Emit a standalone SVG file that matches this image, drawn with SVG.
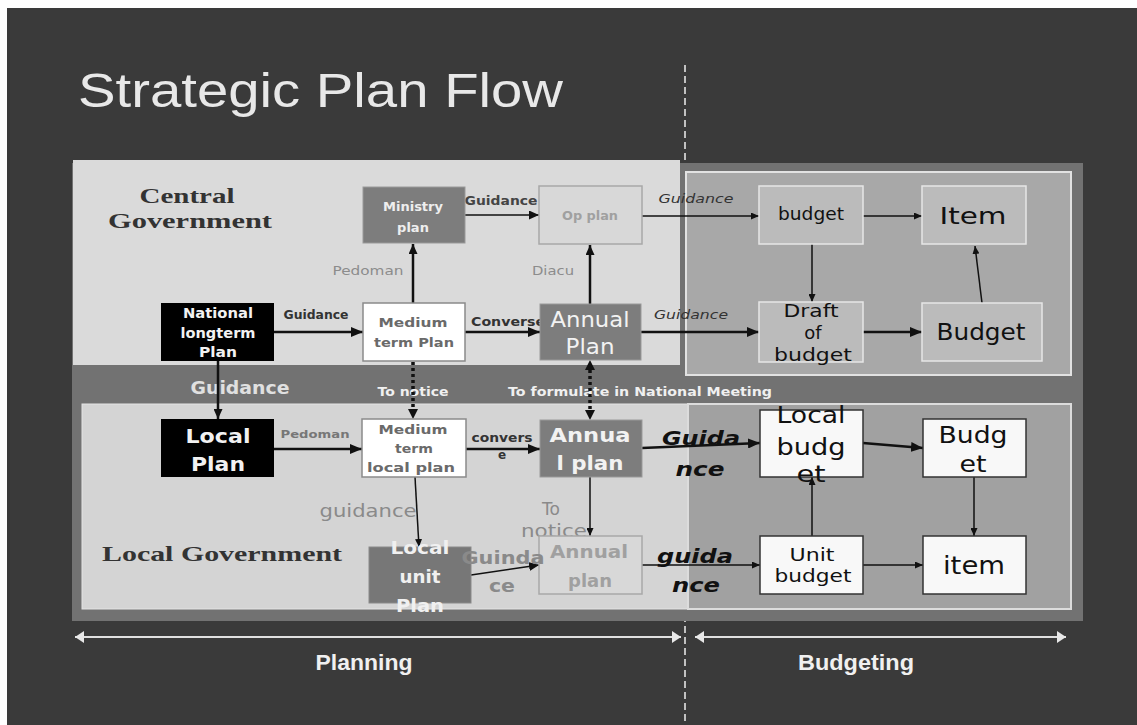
<svg xmlns="http://www.w3.org/2000/svg" width="1137" height="725" viewBox="0 0 1137 725">
<defs>
<style>
.dv{font-family:"DejaVu Sans",Verdana,sans-serif}
.lib{font-family:"Liberation Sans",Arial,sans-serif}
.ser{font-family:"Liberation Serif","Times New Roman",serif;font-weight:bold;font-size:21px;fill:#333}
.b{font-weight:bold}
.i{font-style:italic}
.c{text-anchor:middle}
.ln{stroke:#111;fill:none}
.thk{stroke-width:2.5}
.thn{stroke-width:1.5}
.dot{stroke:#111;stroke-width:3.5;stroke-dasharray:3 3;fill:none}
.white{fill:#f2f2f2}
.dk{fill:#333}
.gr{fill:#8a8a8a}
.bx-black{fill:#000}
.bx-mid{fill:#7d7d7d;stroke:#9a9a9a;stroke-width:1}
.bx-white{fill:#fff;stroke:#8a8a8a;stroke-width:1.5}
.bx-pale{fill:#d8d8d8;stroke:#a8a8a8;stroke-width:1.5}
.bx-grey{fill:#bbbbbb;stroke:#e6e6e6;stroke-width:1.5}
.bx-wb{fill:#f8f8f8;stroke:#333;stroke-width:1.5}
</style>
<marker id="big" viewBox="0 0 12 10" refX="12" refY="5" markerWidth="12" markerHeight="10" markerUnits="userSpaceOnUse" orient="auto"><path d="M0,0 L12,5 L0,10 z" fill="#111"/></marker>
<marker id="med" viewBox="0 0 10 9" refX="10" refY="4.5" markerWidth="10" markerHeight="9" markerUnits="userSpaceOnUse" orient="auto"><path d="M0,0 L10,4.5 L0,9 z" fill="#111"/></marker>
<marker id="sml" viewBox="0 0 8 7" refX="8" refY="3.5" markerWidth="8" markerHeight="7" markerUnits="userSpaceOnUse" orient="auto"><path d="M0,0 L8,3.5 L0,7 z" fill="#111"/></marker>
<marker id="medS" viewBox="0 0 10 9" refX="0" refY="4.5" markerWidth="10" markerHeight="9" markerUnits="userSpaceOnUse" orient="auto"><path d="M10,0 L0,4.5 L10,9 z" fill="#111"/></marker>
<marker id="wE" viewBox="0 0 9 12" refX="9" refY="6" markerWidth="9" markerHeight="12" markerUnits="userSpaceOnUse" orient="auto"><path d="M0,0 L9,6 L0,12 z" fill="#e8e8e8"/></marker>
<marker id="wS" viewBox="0 0 9 12" refX="0" refY="6" markerWidth="9" markerHeight="12" markerUnits="userSpaceOnUse" orient="auto"><path d="M9,0 L0,6 L9,12 z" fill="#e8e8e8"/></marker>
</defs>

<g id="background">
<rect x="0" y="0" width="1137" height="725" fill="#ffffff"/>
<rect x="7" y="8" width="1130" height="717" fill="#3a3a3a"/>
<line x1="685" y1="65" x2="685" y2="725" stroke="#eeeeee" stroke-width="1.5" stroke-dasharray="7 4"/>
<text x="78" y="107" class="lib" font-size="48" fill="#e8e8e8" textLength="485" lengthAdjust="spacingAndGlyphs">Strategic Plan Flow</text>
</g>

<g id="panels">
<rect x="72" y="163" width="1011" height="458" fill="#727272"/>
<rect x="73" y="160" width="607" height="205" fill="#dadada"/>
<rect x="686" y="172" width="385" height="203" fill="#a8a8a8" stroke="#e2e2e2" stroke-width="2"/>
<rect x="82" y="404" width="606" height="205" fill="#d4d4d4" stroke="#e4e4e4" stroke-width="1"/>
<rect x="688" y="404" width="383" height="205" fill="#a1a1a1" stroke="#dcdcdc" stroke-width="2"/>
</g>

<g id="labels">
<text x="187" y="203" class="ser c" textLength="95" lengthAdjust="spacingAndGlyphs">Central</text>
<text x="190" y="228" class="ser c" textLength="164" lengthAdjust="spacingAndGlyphs">Government</text>
<text x="102" y="561" class="ser" textLength="240" lengthAdjust="spacingAndGlyphs">Local Government</text>
<text x="240" y="394" class="dv b c" font-size="17" fill="#e0e0e0" textLength="99" lengthAdjust="spacingAndGlyphs">Guidance</text>
<text x="413" y="396" class="dv b c" font-size="13" fill="#f0f0f0" textLength="71" lengthAdjust="spacingAndGlyphs">To notice</text>
<text x="508" y="396" class="dv b" font-size="13" fill="#f0f0f0" textLength="264" lengthAdjust="spacingAndGlyphs">To formulate in National Meeting</text>
<text x="316" y="319" class="dv b c" font-size="12" fill="#333" textLength="65" lengthAdjust="spacingAndGlyphs">Guidance</text>
<text x="501" y="205" class="dv b c" font-size="13" fill="#444" textLength="73" lengthAdjust="spacingAndGlyphs">Guidance</text>
<text x="368" y="275" class="dv c" font-size="13" fill="#8c8c8c" textLength="71" lengthAdjust="spacingAndGlyphs">Pedoman</text>
<text x="553" y="275" class="dv c" font-size="13" fill="#8c8c8c" textLength="42" lengthAdjust="spacingAndGlyphs">Diacu</text>
<text x="508" y="326" class="dv b c" font-size="13" fill="#333" textLength="74" lengthAdjust="spacingAndGlyphs">Converse</text>
<text x="696" y="203" class="dv i c" font-size="13" fill="#333" textLength="75" lengthAdjust="spacingAndGlyphs">Guidance</text>
<text x="691" y="319" class="dv i c" font-size="13" fill="#333" textLength="74" lengthAdjust="spacingAndGlyphs">Guidance</text>
<text x="315" y="438" class="dv b c" font-size="11" fill="#777" textLength="69" lengthAdjust="spacingAndGlyphs">Pedoman</text>
<text x="502" y="442" class="dv b c" font-size="12" fill="#333" textLength="61" lengthAdjust="spacingAndGlyphs">convers</text>
<text x="502" y="459" class="dv b c" font-size="12" fill="#333">e</text>
<text x="368" y="517" class="dv c" font-size="17" fill="#8a8a8a" textLength="97" lengthAdjust="spacingAndGlyphs">guidance</text>
<text x="551" y="515" class="dv c" font-size="17" fill="#8a8a8a">To</text>
<text x="554" y="537" class="dv c" font-size="17" fill="#8a8a8a" textLength="66" lengthAdjust="spacingAndGlyphs">notice</text>
<text x="701" y="445" class="dv b i c" font-size="20" fill="#111" textLength="78" lengthAdjust="spacingAndGlyphs">Guida</text>
<text x="700" y="476" class="dv b i c" font-size="20" fill="#111" textLength="49" lengthAdjust="spacingAndGlyphs">nce</text>
<text x="695" y="563" class="dv b i c" font-size="20" fill="#111" textLength="76" lengthAdjust="spacingAndGlyphs">guida</text>
<text x="696" y="592" class="dv b i c" font-size="20" fill="#111" textLength="48" lengthAdjust="spacingAndGlyphs">nce</text>
</g>

<g id="connectors">
<line class="ln thk" x1="274" y1="332" x2="363" y2="332" marker-end="url(#big)"/>
<line class="ln thk" x1="413" y1="303" x2="413" y2="244" marker-end="url(#med)"/>
<line class="ln thn" x1="465" y1="215" x2="539" y2="215" marker-end="url(#med)"/>
<line class="ln thk" x1="465" y1="332" x2="540" y2="332" marker-end="url(#big)"/>
<line class="ln thk" x1="590" y1="304" x2="590" y2="245" marker-end="url(#med)"/>
<line class="ln thn" x1="642" y1="216" x2="759" y2="216" marker-end="url(#sml)"/>
<line class="ln thk" x1="641" y1="332" x2="759" y2="332" marker-end="url(#big)"/>
<line class="ln thn" x1="863" y1="216" x2="922" y2="216" marker-end="url(#sml)"/>
<line class="ln thn" x1="812" y1="244" x2="812" y2="302" marker-end="url(#sml)"/>
<line class="ln thk" x1="863" y1="332" x2="922" y2="332" marker-end="url(#big)"/>
<line class="ln thn" x1="982" y1="303" x2="975" y2="246" marker-end="url(#sml)"/>
<line class="ln thk" x1="218" y1="361" x2="218" y2="419" marker-end="url(#med)"/>
<line class="dot" x1="413" y1="362" x2="413" y2="410"/>
<path d="M408,409 L418,409 L413,419 z" fill="#111"/>
<line class="dot" x1="590" y1="370" x2="590" y2="410"/>
<path d="M585,370 L595,370 L590,360 z" fill="#111"/>
<path d="M585,410 L595,410 L590,420 z" fill="#111"/>
<line class="ln thk" x1="274" y1="449" x2="362" y2="449" marker-end="url(#big)"/>
<line class="ln thk" x1="466" y1="449" x2="540" y2="449" marker-end="url(#big)"/>
<line class="ln thn" x1="415" y1="477" x2="419" y2="547" marker-end="url(#sml)"/>
<line class="ln thn" x1="590" y1="477" x2="590" y2="536" marker-end="url(#sml)"/>
<line class="ln thn" x1="471" y1="575" x2="539" y2="565" marker-end="url(#med)"/>
<line class="ln thk" x1="642" y1="448" x2="760" y2="443" marker-end="url(#big)"/>
<line class="ln thn" x1="642" y1="565" x2="760" y2="565" marker-end="url(#sml)"/>
<line class="ln thn" x1="812" y1="536" x2="812" y2="477" marker-end="url(#sml)"/>
<line class="ln thk" x1="863" y1="443" x2="923" y2="448" marker-end="url(#big)"/>
<line class="ln thn" x1="974" y1="477" x2="974" y2="536" marker-end="url(#sml)"/>
<line class="ln thn" x1="863" y1="565" x2="923" y2="565" marker-end="url(#sml)"/>
</g>

<g id="n-national">
<rect x="161" y="303" width="113" height="58" class="bx-black"/>
<text x="218" y="318" class="dv b c white" font-size="14" textLength="70" lengthAdjust="spacingAndGlyphs">National</text>
<text x="218" y="338" class="dv b c white" font-size="14" textLength="75" lengthAdjust="spacingAndGlyphs">longterm</text>
<text x="218" y="357" class="dv b c white" font-size="14" textLength="38" lengthAdjust="spacingAndGlyphs">Plan</text>
</g>
<g id="n-ministry">
<rect x="363" y="187" width="102" height="56" class="bx-mid"/>
<text x="413" y="211" class="dv b c" font-size="13" fill="#eeeeee" textLength="60" lengthAdjust="spacingAndGlyphs">Ministry</text>
<text x="413" y="232" class="dv b c" font-size="13" fill="#eeeeee">plan</text>
</g>
<g id="n-opplan">
<rect x="539" y="186" width="103" height="58" class="bx-pale"/>
<text x="590" y="220" class="dv b c" font-size="13" fill="#a0a0a0" textLength="56" lengthAdjust="spacingAndGlyphs">Op plan</text>
</g>
<g id="n-medium">
<rect x="363" y="303" width="102" height="58" class="bx-white"/>
<text x="413" y="327" class="dv b c" font-size="13" fill="#6a6a6a" textLength="69" lengthAdjust="spacingAndGlyphs">Medium</text>
<text x="414" y="347" class="dv b c" font-size="13" fill="#6a6a6a" textLength="80" lengthAdjust="spacingAndGlyphs">term Plan</text>
</g>
<g id="n-annual">
<rect x="540" y="304" width="101" height="56" class="bx-mid"/>
<text x="590" y="327" class="dv c" font-size="22" fill="#f2f2f2" textLength="79" lengthAdjust="spacingAndGlyphs">Annual</text>
<text x="590" y="354" class="dv c" font-size="22" fill="#f2f2f2" textLength="49" lengthAdjust="spacingAndGlyphs">Plan</text>
</g>
<g id="n-budget">
<rect x="759" y="186" width="104" height="58" class="bx-grey"/>
<text x="811" y="220" class="dv c" font-size="17" fill="#111" textLength="66" lengthAdjust="spacingAndGlyphs">budget</text>
</g>
<g id="n-item-top">
<rect x="922" y="186" width="104" height="58" class="bx-grey"/>
<text x="973" y="224" class="dv c" font-size="23" fill="#111" textLength="67" lengthAdjust="spacingAndGlyphs">Item</text>
</g>
<g id="n-draft">
<rect x="759" y="302" width="104" height="60" class="bx-grey"/>
<text x="811" y="317" class="dv c" font-size="18" fill="#111" textLength="55" lengthAdjust="spacingAndGlyphs">Draft</text>
<text x="813" y="339" class="dv c" font-size="18" fill="#111">of</text>
<text x="813" y="361" class="dv c" font-size="18" fill="#111" textLength="78" lengthAdjust="spacingAndGlyphs">budget</text>
</g>
<g id="n-budget-cap">
<rect x="922" y="303" width="120" height="58" class="bx-grey"/>
<text x="981" y="340" class="dv c" font-size="23" fill="#111" textLength="89" lengthAdjust="spacingAndGlyphs">Budget</text>
</g>
<g id="n-localplan">
<rect x="161" y="419" width="113" height="58" class="bx-black"/>
<text x="218" y="443" class="dv b c white" font-size="20" textLength="65" lengthAdjust="spacingAndGlyphs">Local</text>
<text x="218" y="471" class="dv b c white" font-size="20" textLength="54" lengthAdjust="spacingAndGlyphs">Plan</text>
</g>
<g id="n-medium-local">
<rect x="362" y="419" width="104" height="58" class="bx-white"/>
<text x="413" y="434" class="dv b c" font-size="13" fill="#6a6a6a" textLength="69" lengthAdjust="spacingAndGlyphs">Medium</text>
<text x="414" y="453" class="dv b c" font-size="13" fill="#6a6a6a" textLength="38" lengthAdjust="spacingAndGlyphs">term</text>
<text x="411" y="472" class="dv b c" font-size="13" fill="#6a6a6a" textLength="88" lengthAdjust="spacingAndGlyphs">local plan</text>
</g>
<g id="n-annual-local">
<rect x="540" y="420" width="102" height="57" class="bx-mid"/>
<text x="590" y="442" class="dv b c" font-size="20" fill="#f2f2f2" textLength="81" lengthAdjust="spacingAndGlyphs">Annua</text>
<text x="590" y="470" class="dv b c" font-size="20" fill="#f2f2f2" textLength="67" lengthAdjust="spacingAndGlyphs">l plan</text>
</g>
<g id="n-localunit">
<rect x="369" y="547" width="102" height="56" fill="#777777" stroke="#8a8a8a" stroke-width="1"/>
<text x="420" y="554" class="dv b c" font-size="18" fill="#f0f0f0" textLength="59" lengthAdjust="spacingAndGlyphs">Local</text>
<text x="420" y="583" class="dv b c" font-size="18" fill="#f0f0f0" textLength="41" lengthAdjust="spacingAndGlyphs">unit</text>
<text x="420" y="612" class="dv b c" font-size="18" fill="#f0f0f0" textLength="48" lengthAdjust="spacingAndGlyphs">Plan</text>
</g>
<g id="n-annual-lower">
<rect x="539" y="536" width="103" height="58" class="bx-pale"/>
<text x="589" y="558" class="dv b c" font-size="18" fill="#a0a0a0" textLength="78" lengthAdjust="spacingAndGlyphs">Annual</text>
<text x="590" y="587" class="dv b c" font-size="18" fill="#a0a0a0" textLength="44" lengthAdjust="spacingAndGlyphs">plan</text>
</g>
<g id="l-guinda">
<text x="503" y="564" class="dv b c" font-size="18" fill="#8a8a8a" textLength="83" lengthAdjust="spacingAndGlyphs">Guinda</text>
<text x="502" y="592" class="dv b c" font-size="18" fill="#8a8a8a" textLength="26" lengthAdjust="spacingAndGlyphs">ce</text>
</g>
<g id="n-localbudget">
<rect x="760" y="410" width="103" height="67" class="bx-wb"/>
<text x="811" y="423" class="dv c" font-size="23" fill="#111" textLength="69" lengthAdjust="spacingAndGlyphs">Local</text>
<text x="811" y="455" class="dv c" font-size="23" fill="#111" textLength="69" lengthAdjust="spacingAndGlyphs">budg</text>
<text x="811" y="482" class="dv c" font-size="23" fill="#111" textLength="29" lengthAdjust="spacingAndGlyphs">et</text>
</g>
<g id="n-budget-local">
<rect x="923" y="419" width="103" height="58" class="bx-wb"/>
<text x="973" y="443" class="dv c" font-size="23" fill="#111" textLength="69" lengthAdjust="spacingAndGlyphs">Budg</text>
<text x="973" y="472" class="dv c" font-size="23" fill="#111" textLength="27" lengthAdjust="spacingAndGlyphs">et</text>
</g>
<g id="n-unitbudget">
<rect x="760" y="536" width="103" height="58" class="bx-wb"/>
<text x="812" y="561" class="dv c" font-size="18" fill="#111" textLength="45" lengthAdjust="spacingAndGlyphs">Unit</text>
<text x="813" y="582" class="dv c" font-size="18" fill="#111" textLength="77" lengthAdjust="spacingAndGlyphs">budget</text>
</g>
<g id="n-item-local">
<rect x="923" y="536" width="103" height="58" class="bx-wb"/>
<text x="974" y="574" class="dv c" font-size="24" fill="#111" textLength="62" lengthAdjust="spacingAndGlyphs">item</text>
</g>

<g id="scale">
<line x1="75" y1="637" x2="681" y2="637" stroke="#e0e0e0" stroke-width="2" marker-start="url(#wS)" marker-end="url(#wE)"/>
<line x1="695" y1="637" x2="1066" y2="637" stroke="#e0e0e0" stroke-width="2" marker-start="url(#wS)" marker-end="url(#wE)"/>
<text x="364" y="670" class="lib b c" font-size="22" fill="#f0f0f0" textLength="97" lengthAdjust="spacingAndGlyphs">Planning</text>
<text x="856" y="670" class="lib b c" font-size="22" fill="#f0f0f0" textLength="116" lengthAdjust="spacingAndGlyphs">Budgeting</text>
</g>
</svg>
